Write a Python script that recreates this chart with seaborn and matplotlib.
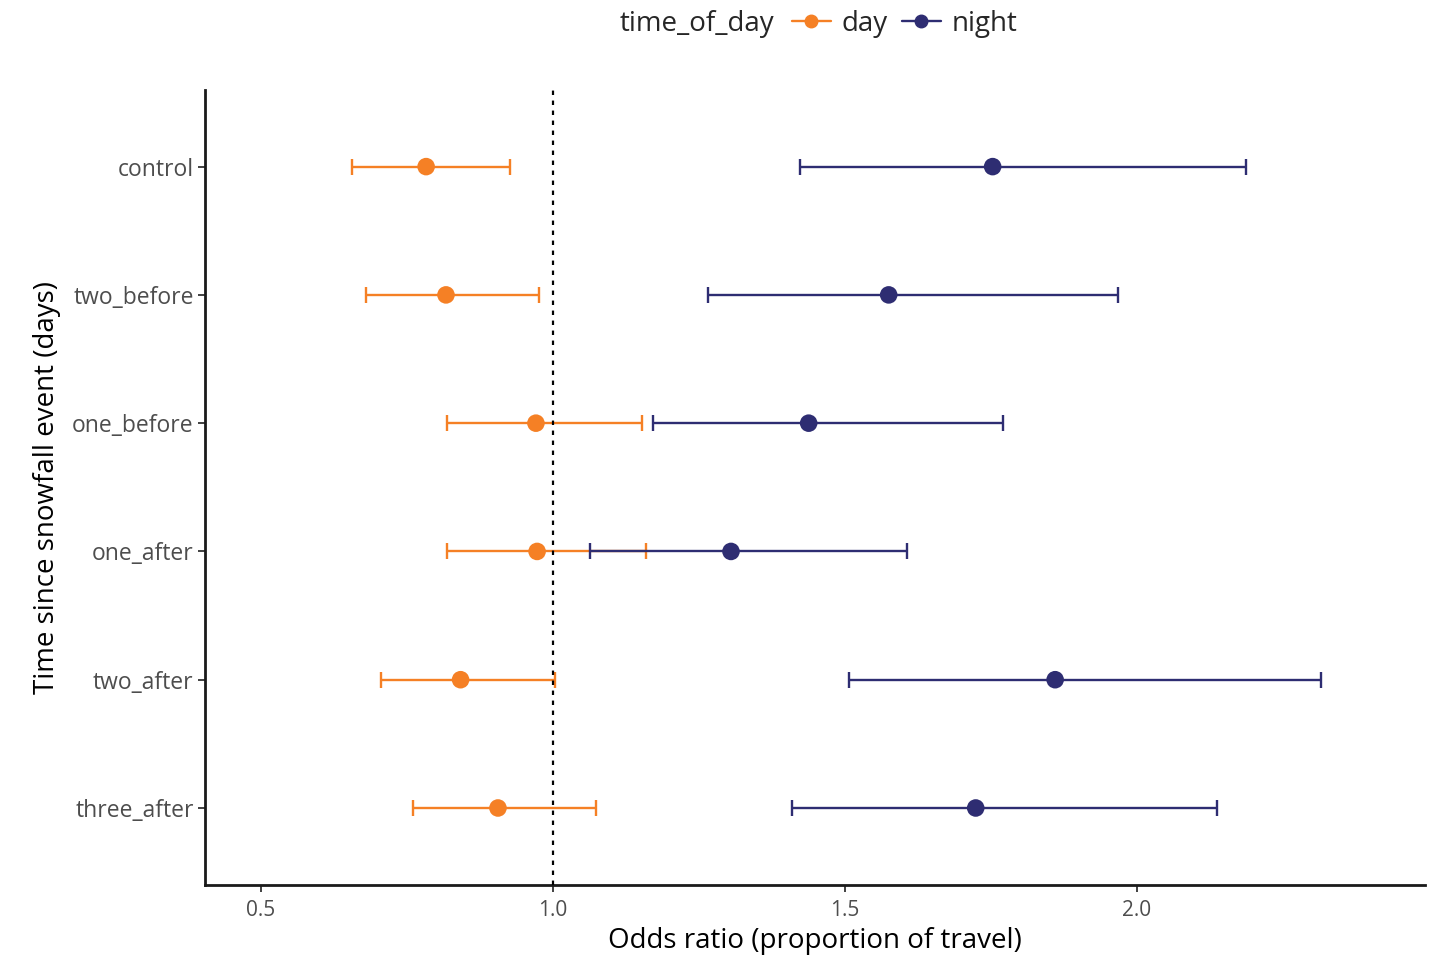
import pandas as pd
import seaborn as sns
import matplotlib.pyplot as plt
from matplotlib.lines import Line2D

sns.set_style("white")
plt.rcParams['font.family'] = ['Open Sans', 'DejaVu Sans']

# values
periods = ['control', 'two_before', 'one_before', 'one_after', 'two_after', 'three_after']
day_or = [0.783, 0.817, 0.971, 0.973, 0.842, 0.906]
day_lo = [0.656, 0.680, 0.818, 0.818, 0.705, 0.760]
day_hi = [0.926, 0.976, 1.152, 1.159, 1.003, 1.074]
night_or = [1.753, 1.575, 1.438, 1.305, 1.860, 1.724]
night_lo = [1.423, 1.265, 1.171, 1.063, 1.507, 1.409]
night_hi = [2.187, 1.967, 1.771, 1.606, 2.315, 2.137]

colors = {'day': '#F58025', 'night': '#2E2D72'}

df = pd.concat([
    pd.DataFrame({'period': periods, 'odds': day_or, 'lo': day_lo, 'hi': day_hi, 'time_of_day': 'day'}),
    pd.DataFrame({'period': periods, 'odds': night_or, 'lo': night_lo, 'hi': night_hi, 'time_of_day': 'night'}),
], ignore_index=True)
df['pos'] = df['period'].map({p: i for i, p in enumerate(periods)})

fig = plt.figure(figsize=(14.32, 9.64), dpi=100)
ax = fig.add_axes([0.143, 0.082, 0.852, 0.825])

# error bars first, then points on top
for tod in ['day', 'night']:
    d = df[df['time_of_day'] == tod]
    ax.errorbar(d['odds'], d['pos'], xerr=[d['odds'] - d['lo'], d['hi'] - d['odds']],
                fmt='none', ecolor=colors[tod], elinewidth=1.7, capsize=6, capthick=1.7, zorder=2)
sns.scatterplot(data=df, x='odds', y='pos', hue='time_of_day', palette=colors,
                s=160, edgecolor='none', legend=False, ax=ax, zorder=3)

ax.axvline(1.0, color='black', linestyle=(0, (2, 2.5)), linewidth=1.6, zorder=4)

ax.set_xlim(0.404, 2.493)
ax.set_ylim(5.6, -0.6)
ax.set_yticks(range(len(periods)))
ax.set_yticklabels(periods)
ax.set_xticks([0.5, 1.0, 1.5, 2.0])
ax.set_xticklabels(['0.5', '1.0', '1.5', '2.0'])
ax.set_xlabel('Odds ratio (proportion of travel)', fontsize=20, color='black', labelpad=4)
ax.set_ylabel('Time since snowfall event (days)', fontsize=20, color='black', labelpad=8)
ax.tick_params(axis='x', labelsize=15, pad=6)
ax.tick_params(axis='y', labelsize=16.5, pad=3)
ax.tick_params(axis='both', labelcolor='#4D4D4D', length=5, width=1.3,
               color='#333333', direction='out', bottom=True, left=True)
for side in ['top', 'right']:
    ax.spines[side].set_visible(False)
for side in ['left', 'bottom']:
    ax.spines[side].set_color('#1a1a1a')
    ax.spines[side].set_linewidth(2.0)

# legend on top, title inline with entries
handles = [Line2D([0], [0], color=colors[t], marker='o', markersize=9, linewidth=1.7) for t in ['day', 'night']]
fig.text(0.541, 0.975, 'time_of_day', fontsize=20, ha='right', va='center')
fig.legend(handles, ['day', 'night'], loc='center left', bbox_to_anchor=(0.553, 0.975),
           ncol=2, frameon=False, fontsize=20, handlelength=1.4, handletextpad=0.4,
           columnspacing=0.5, borderaxespad=0, borderpad=0)

fig.savefig('out.png', dpi=100)
